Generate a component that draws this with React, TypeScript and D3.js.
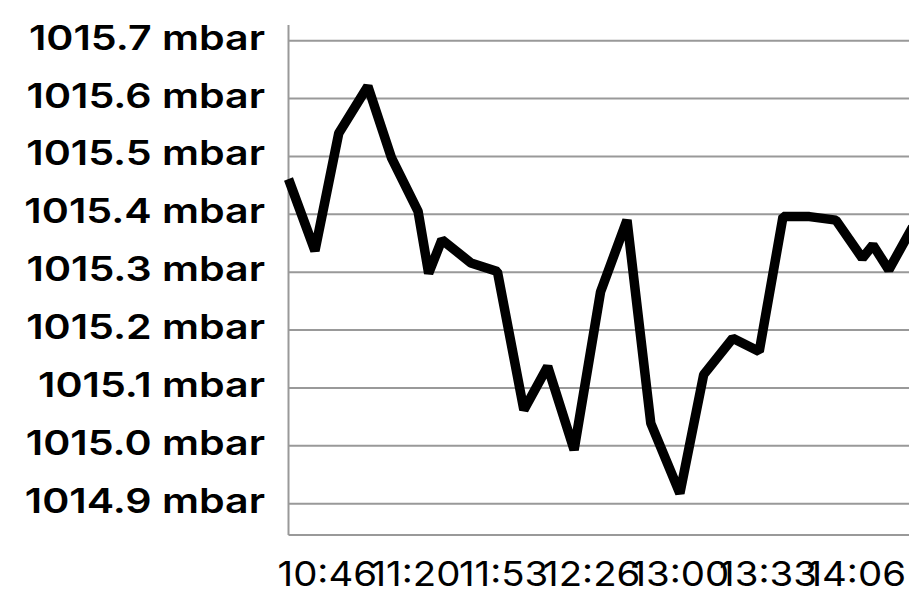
import React from "react";
import * as d3 from "d3";

const times = [
  "10:32", "10:42", "10:51", "11:02", "11:11", "11:21", "11:25", "11:30", "11:41", "11:51",
  "12:01", "12:10", "12:20", "12:30", "12:40", "12:49", "13:00", "13:09", "13:20", "13:30",
  "13:39", "13:49", "13:59", "14:09", "14:13", "14:19", "14:28",
];
const pressures = [
  1015.461, 1015.337, 1015.540, 1015.621, 1015.497, 1015.405, 1015.298, 1015.356, 1015.316, 1015.301,
  1015.062, 1015.137, 1014.993, 1015.266, 1015.390, 1015.039, 1014.918, 1015.123, 1015.186, 1015.163,
  1015.396, 1015.396, 1015.390, 1015.324, 1015.347, 1015.304, 1015.378,
];
const yTicks = [1014.9, 1015.0, 1015.1, 1015.2, 1015.3, 1015.4, 1015.5, 1015.6, 1015.7];
const xTickTimes = ["10:46:40", "11:20:00", "11:53:20", "12:26:40", "13:00:00", "13:33:20", "14:06:40"];

const toMin = (s: string) => {
  const p = s.split(":").map(Number);
  return p[0] * 60 + p[1] + (p[2] || 0) / 60;
};

export default function App() {
  const W = 909;
  const H = 591;
  const data = times.map((t, i) => ({ t: toMin(t), v: pressures[i] }));
  const x = d3
    .scaleLinear()
    .domain(d3.extent(data, (d) => d.t) as [number, number])
    .range([288.5, 912.6]);
  const y = d3.scaleLinear().domain([1014.846, 1015.727]).range([535, 25]);
  const line = d3
    .line<{ t: number; v: number }>()
    .x((d) => x(d.t))
    .y((d) => y(d.v));
  const x0 = x.range()[0];
  const yLabelScale = 1.21;
  const xLabelScale = 1.13;
  const font = "Inter, 'Noto Sans', sans-serif";
  return (
    <svg
      width={W}
      height={H}
      style={{ position: "fixed", left: 0, top: 0, background: "#fff" }}
    >
      <rect x={0} y={0} width={W} height={H} fill="#fff" />
      {yTicks.map((v) => (
        <line key={"g" + v} x1={x0} x2={W} y1={y(v)} y2={y(v)} stroke="#999" strokeWidth={2} />
      ))}
      <line x1={x0} x2={x0} y1={y.range()[1]} y2={y.range()[0]} stroke="#999" strokeWidth={2} />
      <line x1={x0} x2={W} y1={y.range()[0]} y2={y.range()[0]} stroke="#999" strokeWidth={2} />
      <path d={line(data) || ""} fill="none" stroke="#000" strokeWidth={9.5} strokeLinejoin="bevel" />
      {yTicks.map((v) => (
        <text
          key={"y" + v}
          transform={`translate(265,${y(v) + 9}) scale(${yLabelScale},1)`}
          textAnchor="end"
          fontFamily={font}
          fontWeight={600}
          fontSize={34}
          fill="#000"
        >
          {v.toFixed(1) + " mbar"}
        </text>
      ))}
      {xTickTimes.map((s) => (
        <text
          key={"x" + s}
          transform={`translate(${x(toMin(s))},586) scale(${xLabelScale},1)`}
          textAnchor="middle"
          fontFamily={font}
          fontWeight={400}
          fontSize={34}
          fill="#000"
        >
          {s.slice(0, 5)}
        </text>
      ))}
    </svg>
  );
}
